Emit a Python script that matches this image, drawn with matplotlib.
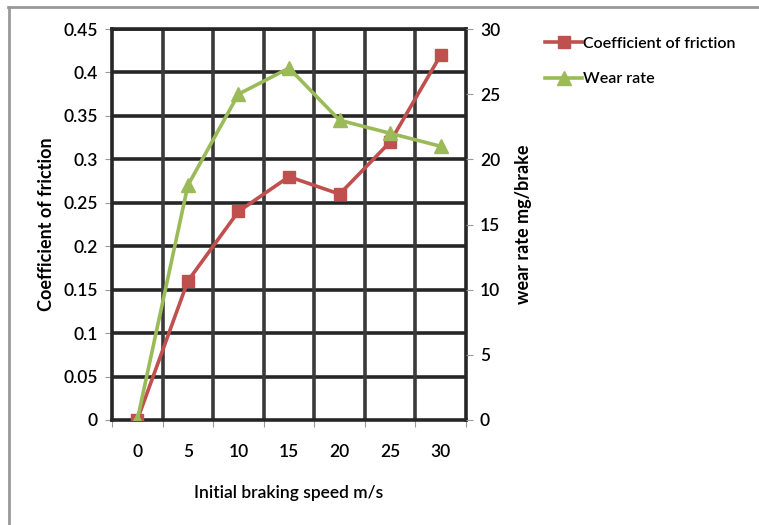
import matplotlib
matplotlib.use("Agg")
import matplotlib.pyplot as plt
from matplotlib.lines import Line2D
import numpy as np

categories = ["0", "5", "10", "15", "20", "25", "30"]
coef_friction = [0, 0.16, 0.24, 0.28, 0.26, 0.32, 0.42]
wear_rate = [0, 18, 25, 27, 23, 22, 21]
left_ticks = [0, 0.05, 0.1, 0.15, 0.2, 0.25, 0.3, 0.35, 0.4, 0.45]
left_labels = ["0", "0.05", "0.1", "0.15", "0.2", "0.25", "0.3", "0.35", "0.4", "0.45"]
right_ticks = [0, 5, 10, 15, 20, 25, 30]

RED = "#C0504D"
GREEN = "#9BBB59"
FONT = "Lato"
FS = 12.5

plt.rcParams['font.family'] = [FONT, 'DejaVu Sans']

W, H = 759, 525
fig = plt.figure(figsize=(W / 100, H / 100), dpi=100)

ax = fig.add_axes([112 / W, 1 - 420 / H, (466 - 112) / W, (420 - 29) / H])
ax2 = ax.twinx()

x = np.arange(len(categories))
ax.set_xlim(-0.5, len(categories) - 0.5)
ax.set_ylim(0, 0.45)
ax2.set_ylim(0, 30)

# grid
for yv in left_ticks[1:]:
    ax.axhline(yv, color="#262626", lw=2.6, zorder=1)
for k in range(1, len(categories)):
    ax.axvline(k - 0.5, color="#3a3a3a", lw=2.6, zorder=1)

for s in ax.spines.values():
    s.set_color("#262626")
    s.set_linewidth(2.6)
for s in ax2.spines.values():
    s.set_visible(False)

ax.set_xticks(x)
ax.set_xticklabels(categories)
ax.set_xticks(np.arange(-0.5, len(categories), 1), minor=True)
ax.tick_params(axis="x", which="major", length=0, pad=17, labelsize=FS)
ax.tick_params(axis="x", which="minor", length=5, color="#999999", width=0.8)
ax.set_yticks(left_ticks)
ax.set_yticklabels(left_labels)
ax.tick_params(axis="y", length=5, color="#999999", width=0.8, labelsize=FS, pad=5)
ax2.set_yticks(right_ticks)
ax2.tick_params(axis="y", length=5, color="#999999", width=0.8, labelsize=FS, pad=5)

for lab in ax.get_xticklabels() + ax.get_yticklabels() + ax2.get_yticklabels():
    lab.set_fontweight("semibold")

ax.plot(x, coef_friction, color=RED, lw=2.6, marker="s", markersize=9,
        markeredgecolor=RED, zorder=6)
ax2.plot(x, wear_rate, color=GREEN, lw=2.6, marker="^", markersize=10,
         markeredgecolor=GREEN, zorder=5)

ax.set_ylabel("Coefficient of friction", fontsize=13, fontweight="bold", labelpad=6)
ax2.set_ylabel("wear rate mg/brake", fontsize=13, fontweight="bold", labelpad=11)
ax.set_xlabel("Initial braking speed m/s", fontsize=FS, fontweight="semibold", labelpad=18)

handles = [
    Line2D([], [], color=RED, lw=2.6, marker="s", markersize=9),
    Line2D([], [], color=GREEN, lw=2.6, marker="^", markersize=10),
]
fig.legend(handles, ["Coefficient of friction", "Wear rate"],
           loc="upper left", bbox_to_anchor=(531 / W, 1 - 22 / H),
           frameon=False, handlelength=2.3, handletextpad=0.05,
           labelspacing=1.35, prop={"family": FONT, "weight": "semibold", "size": 11.5})

# outer frame lines (top and left)
fig.add_artist(Line2D([8 / W, 1], [1 - 7 / H, 1 - 7 / H], transform=fig.transFigure,
                      color="#999999", lw=2))
fig.add_artist(Line2D([8.5 / W, 8.5 / W], [0, 1 - 7 / H], transform=fig.transFigure,
                      color="#999999", lw=2))

fig.savefig("out.png", dpi=100)
